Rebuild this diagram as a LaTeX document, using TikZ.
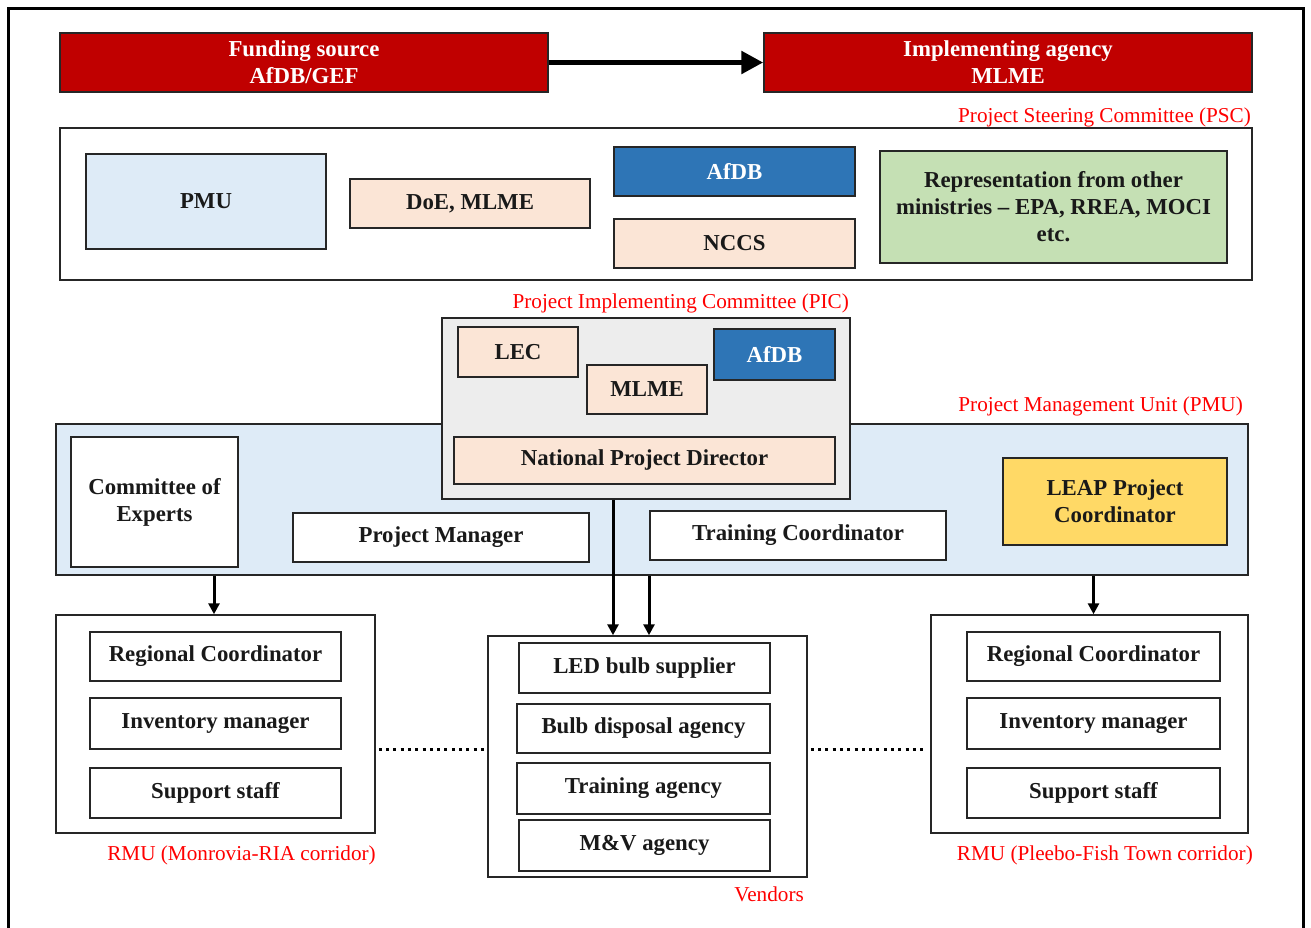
\documentclass[tikz,border=0pt]{standalone}
\usepackage{fontspec}
\setmainfont{Liberation Serif}
\usetikzlibrary{arrows.meta,calc}
\definecolor{dred}{HTML}{C00000}
\definecolor{lblue}{HTML}{DEEBF7}
\definecolor{peach}{HTML}{FBE5D6}
\definecolor{mblue}{HTML}{2E75B6}
\definecolor{lgreen}{HTML}{C5E0B4}
\definecolor{lgray}{HTML}{EDEDED}
\definecolor{ylw}{HTML}{FFD966}
\definecolor{rtxt}{HTML}{FF0000}
\tikzset{
  bx/.style={draw=black!85, line width=1.5pt, rectangle, inner sep=0pt, align=center,
    font=\fontsize{22.8}{27}\selectfont\bfseries, text=black!90},
  redbox/.style={bx, fill=dred, text=white},
  peachbox/.style={bx, fill=peach},
  bluebox/.style={bx, fill=mblue, text=white},
  wbox/.style={bx, fill=white},
  lbl/.style={anchor=east, inner sep=0pt, text=rtxt, font=\fontsize{21.2}{24}\selectfont},
  arr/.style={line width=3pt, -{Triangle[length=11pt,width=11pt]}},
  bigarr/.style={line width=5.5pt, -{Triangle[length=22pt,width=22pt]}},
  dots/.style={line width=3pt, dash pattern=on 3pt off 4.3pt},
}
\begin{document}
\begin{tikzpicture}[x=1pt,y=-1pt]
\useasboundingbox (0,0) rectangle (1311,927);
\clip (0,0) rectangle (1311,927);
\draw[line width=3pt] (8,8) rectangle (1303,960);

% top row
\node[redbox, minimum width=488pt, minimum height=59pt] (fund) at (304,62.5) {Funding source\\AfDB/GEF};
\node[redbox, minimum width=488pt, minimum height=59pt] (impl) at (1008,62.5) {Implementing agency\\MLME};
\draw[bigarr] (fund.east) -- (impl.west);

% PSC
\node[lbl] (psclbl) at (1251,117) {Project Steering Committee (PSC)};
\node[wbox, minimum width=1192pt, minimum height=152pt] (psc) at (656,204) {};
\node[bx, fill=lblue, minimum width=240pt, minimum height=95pt] (pmu1) at (206,201.5) {PMU};
\node[peachbox, minimum width=240pt, minimum height=49pt] (doe) at (470,203.5) {DoE, MLME};
\node[bluebox, minimum width=241pt, minimum height=49pt] (afdb1) at (734.5,171.5) {AfDB};
\node[peachbox, minimum width=241pt, minimum height=49pt] (nccs) at (734.5,243.5) {NCCS};
\node[bx, fill=lgreen, minimum width=347pt, minimum height=112pt] (rep) at (1053.5,207) {Representation from other\\ministries -- EPA, RREA, MOCI\\etc.};

% PMU big
\node[lbl] (pmulbl) at (1243,406) {Project Management Unit (PMU)};
\node[bx, fill=lblue, minimum width=1192pt, minimum height=151pt] (pmub) at (652,499.5) {};
\node[wbox, minimum width=167pt, minimum height=130pt] (coe) at (154.5,502) {Committee of\\Experts};
\node[wbox, minimum width=296pt, minimum height=49pt] (pm) at (441,537.5) {Project Manager};
\node[wbox, minimum width=296pt, minimum height=49pt] (tc) at (798,535.5) {Training Coordinator};
\node[bx, fill=ylw, minimum width=224pt, minimum height=87pt] (leap) at (1115,501.5) {LEAP Project\\Coordinator};

% PIC
\node[lbl] (piclbl) at (849,303) {Project Implementing Committee (PIC)};
\node[bx, fill=lgray, minimum width=408pt, minimum height=181pt] (pic) at (646,408.5) {};
\node[peachbox, minimum width=120pt, minimum height=50pt] (lec) at (518,352) {LEC};
\node[peachbox, minimum width=120pt, minimum height=49pt] (mlme) at (647,389.5) {MLME};
\node[bluebox, minimum width=121pt, minimum height=51pt] (afdb2) at (774.5,354.5) {AfDB};
\node[peachbox, minimum width=381pt, minimum height=47pt] (npd) at (644.5,460.5) {National Project Director};

% RMU left
\node[wbox, minimum width=319pt, minimum height=218pt] (rmuL) at (215.5,724) {};
\node[wbox, minimum width=251pt, minimum height=49pt] (rcL) at (215.5,656.5) {Regional Coordinator};
\node[wbox, minimum width=251pt, minimum height=51pt] (imL) at (215.5,723.5) {Inventory manager};
\node[wbox, minimum width=251pt, minimum height=50pt] (ssL) at (215.5,793) {Support staff};
\node[lbl] (rmuLlbl) at (376,855) {RMU (Monrovia-RIA corridor)};

% Vendors
\node[wbox, minimum width=319pt, minimum height=241pt] (vend) at (647.5,756.5) {};
\node[wbox, minimum width=251pt, minimum height=50pt] (led) at (644.5,668) {LED bulb supplier};
\node[wbox, minimum width=253pt, minimum height=49pt] (bda) at (643.5,728.5) {Bulb disposal agency};
\node[wbox, minimum width=253pt, minimum height=51pt] (ta) at (643.5,788.5) {Training agency};
\node[wbox, minimum width=251pt, minimum height=51pt] (mv) at (644.5,845.5) {M\&V agency};
\node[lbl] (vendlbl) at (804,894) {Vendors};

% RMU right
\node[wbox, minimum width=317pt, minimum height=218pt] (rmuR) at (1089.5,724) {};
\node[wbox, minimum width=253pt, minimum height=49pt] (rcR) at (1093.5,656.5) {Regional Coordinator};
\node[wbox, minimum width=253pt, minimum height=51pt] (imR) at (1093.5,723.5) {Inventory manager};
\node[wbox, minimum width=253pt, minimum height=50pt] (ssR) at (1093.5,793) {Support staff};
\node[lbl] (rmuRlbl) at (1253,855) {RMU (Pleebo-Fish Town corridor)};

% arrows
\draw[arr] ([xshift=-1.5pt]rmuL.north |- pmub.south) -- ([xshift=-1.5pt]rmuL.north);
\draw[arr] (rcR.center |- pmub.south) -- (rcR.center |- rmuR.north);
\draw[arr] ([xshift=-33pt]pic.south) -- ([xshift=-33pt]pic.south |- vend.north);
\draw[arr] ([xshift=1.5pt]vend.north |- pmub.south) -- ([xshift=1.5pt]vend.north);

% dotted links
\draw[dots] ([xshift=3pt]rmuL.east |- imL.south) -- ([xshift=-3pt]vend.west |- imL.south);
\draw[dots] ([xshift=3pt]vend.east |- imR.south) -- ([xshift=-3pt]rmuR.west |- imR.south);
\end{tikzpicture}
\end{document}
